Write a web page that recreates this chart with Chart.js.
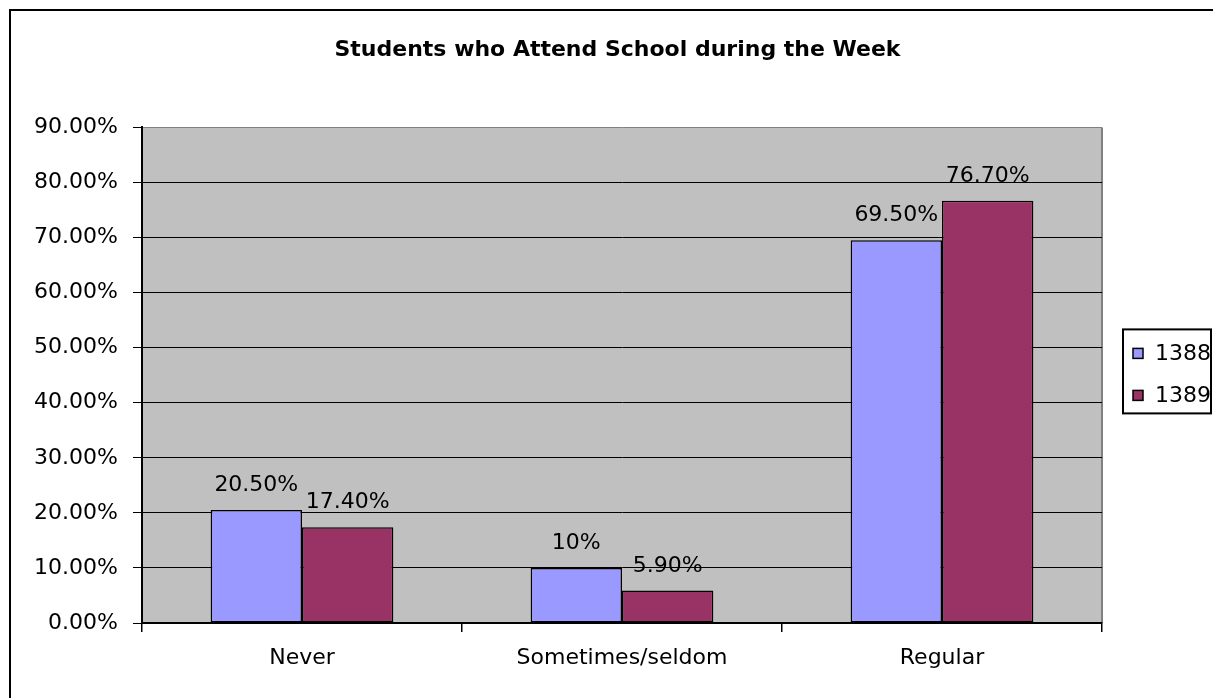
<!DOCTYPE html>
<html>
<head>
<meta charset="utf-8">
<script src="https://cdn.jsdelivr.net/npm/chart.js@4"></script>
<style>
  html, body { margin: 0; padding: 0; background: #fff; }
  #wrap { width: 1213px; height: 698px; }
</style>
</head>
<body>
<div id="wrap"><canvas id="attend-canvas"></canvas></div>
<script>
// data
const categories = ["Never", "Sometimes/seldom", "Regular"];
const seriesNames = ["1388", "1389"];
const values1388 = [20.5, 10, 69.5];
const values1389 = [17.4, 5.9, 76.7];
const labels1388 = ["20.50%", "10%", "69.50%"];
const labels1389 = ["17.40%", "5.90%", "76.70%"];
const yTicks = [0, 10, 20, 30, 40, 50, 60, 70, 80, 90];

const font = "'DejaVu Sans', 'Liberation Sans', sans-serif";
const textSize = 22;

// white page, outer frame, grey plot area
const background = {
  id: "background",
  beforeDraw(chart) {
    const { ctx, chartArea: a } = chart;
    ctx.save();
    ctx.fillStyle = "#fff";
    ctx.fillRect(0, 0, chart.width, chart.height);
    ctx.strokeStyle = "#000";
    ctx.lineWidth = 2;
    ctx.beginPath();
    ctx.moveTo(10, chart.height + 5);
    ctx.lineTo(10, 10);
    ctx.lineTo(chart.width + 5, 10);
    ctx.stroke();
    ctx.fillStyle = "#C0C0C0";
    ctx.fillRect(a.left, a.top, a.right - a.left, a.bottom - a.top);
    ctx.strokeStyle = "#808080";
    ctx.lineWidth = 2;
    ctx.beginPath();
    ctx.moveTo(a.right, a.top);
    ctx.lineTo(a.right, a.bottom);
    ctx.stroke();
    ctx.restore();
  },
};

// value labels above each bar
const barLabels = {
  id: "barLabels",
  afterDatasetsDraw(chart) {
    const { ctx } = chart;
    const texts = [labels1388, labels1389];
    ctx.save();
    ctx.font = `${textSize}px ${font}`;
    ctx.fillStyle = "#000";
    ctx.textAlign = "center";
    ctx.textBaseline = "alphabetic";
    chart.data.datasets.forEach((ds, i) => {
      chart.getDatasetMeta(i).data.forEach((bar, j) => {
        ctx.fillText(texts[i][j], bar.x, bar.y - 19);
      });
    });
    ctx.restore();
  },
};

// boxed legend to the right of the plot
const boxLegend = {
  id: "boxLegend",
  afterDraw(chart) {
    const { ctx, chartArea: a } = chart;
    const left = a.right + 21;
    const top = a.top + 202;
    ctx.save();
    ctx.strokeStyle = "#000";
    ctx.lineWidth = 2;
    ctx.strokeRect(left, top, 88, 84);
    ctx.font = `${textSize}px ${font}`;
    ctx.textBaseline = "middle";
    chart.data.datasets.forEach((ds, i) => {
      const cy = top + 24 + i * 42;
      ctx.fillStyle = ds.backgroundColor;
      ctx.fillRect(left + 10, cy - 5, 10, 10);
      ctx.lineWidth = 1.5;
      ctx.strokeRect(left + 10, cy - 5, 10, 10);
      ctx.fillStyle = "#000";
      ctx.fillText(ds.label, left + 32, cy + 1);
    });
    ctx.restore();
  },
};

new Chart(document.getElementById("attend-canvas"), {
  type: "bar",
  data: {
    labels: categories,
    datasets: [
      {
        label: seriesNames[0],
        data: values1388,
        backgroundColor: "#9999FF",
        borderColor: "#000",
        borderWidth: 1.5,
        borderSkipped: false,
        categoryPercentage: 0.571,
        barPercentage: 1,
      },
      {
        label: seriesNames[1],
        data: values1389,
        backgroundColor: "#993366",
        borderColor: "#000",
        borderWidth: 1.5,
        borderSkipped: false,
        categoryPercentage: 0.571,
        barPercentage: 1,
      },
    ],
  },
  options: {
    responsive: true,
    maintainAspectRatio: false,
    animation: false,
    layout: {
      padding: { left: 22, right: 0, top: 0, bottom: 10 },
    },
    scales: {
      y: {
        min: 0,
        max: 90,
        afterBuildTicks: (scale) => {
          scale.ticks = yTicks.map((v) => ({ value: v }));
        },
        afterFit: (scale) => {
          scale.width = 120;
        },
        ticks: {
          color: "#000",
          padding: 15,
          font: { family: font, size: textSize },
          callback: (v) => v.toFixed(2) + "%",
        },
        grid: {
          color: (ctx) => (ctx.tick && ctx.tick.value === 90 ? "#808080" : "#000"),
          tickColor: "#000",
          lineWidth: 1,
          tickLength: 9,
        },
        border: { color: "#000", width: 2 },
      },
      // empty space on the right that holds the legend
      legendSpace: {
        type: "linear",
        position: "right",
        afterFit: (scale) => {
          scale.width = 111;
        },
        ticks: { display: false },
        grid: { display: false },
        border: { display: false },
      },
      x: {
        afterFit: (scale) => {
          scale.height = 65;
        },
        ticks: {
          color: "#000",
          padding: 13,
          font: { family: font, size: textSize },
        },
        grid: {
          drawOnChartArea: false,
          color: "#000",
          tickLength: 9,
          lineWidth: 1.5,
        },
        border: { color: "#000", width: 2 },
      },
    },
    plugins: {
      legend: { display: false },
      tooltip: { enabled: false },
      title: {
        display: true,
        text: "Students who Attend School during the Week",
        color: "#000",
        font: { family: font, size: 22, weight: "bold" },
        padding: { top: 37, bottom: 64 },
      },
    },
  },
  plugins: [background, barLabels, boxLegend],
});
</script>
</body>
</html>
